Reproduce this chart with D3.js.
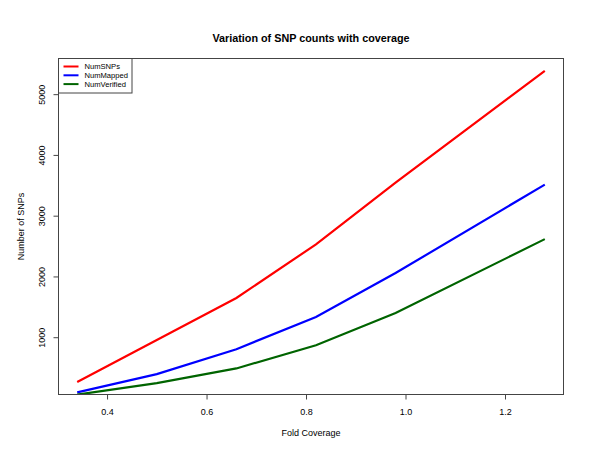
<!DOCTYPE html>
<html><head><meta charset="utf-8">
<script src="https://cdn.jsdelivr.net/npm/d3@7"></script>
<style>body{margin:0;background:#fff}svg{display:block}text{font-family:"Liberation Sans",Arial,sans-serif;fill:#000}</style>
</head><body><svg id="c" width="600" height="464"></svg>
<script>
const coverage = [0.34, 0.5, 0.66, 0.82, 0.98, 1.28];
const numSNPs = [262, 955, 1645, 2528, 3545, 5382];
const numMapped = [92, 392, 803, 1333, 2056, 3512];
const numVerified = [55, 245, 486, 868, 1399, 2614];
const seriesNames = ["NumSNPs", "NumMapped", "NumVerified"];
const seriesColors = ["#ff0000", "#0000ff", "#006400"];
const xTicks = [0.4, 0.6, 0.8, 1.0, 1.2];
const yTicks = [1000, 2000, 3000, 4000, 5000];

const svg = d3.select("#c");
const L = 58.5, R = 563.5, T = 58.5, B = 394.5;
const ext = (a) => { const [mn, mx] = d3.extent(a); const d = (mx - mn) * 0.04; return [mn - d, mx + d]; };
const x = d3.scaleLinear().domain(ext(coverage)).range([L, R]);
const y = d3.scaleLinear().domain(ext(numSNPs)).range([B, T]);

svg.append("defs").append("clipPath").attr("id", "clip")
  .append("rect").attr("x", L).attr("y", T).attr("width", R - L).attr("height", B - T);

const series = [numSNPs, numMapped, numVerified];
const line = d3.line().x((d, i) => x(coverage[i])).y(d => y(d));
const g = svg.append("g").attr("clip-path", "url(#clip)");
series.forEach((s, k) => {
  g.append("path").datum(s).attr("d", line).attr("fill", "none")
    .attr("stroke", seriesColors[k]).attr("stroke-width", 2.2);
});

// box
svg.append("rect").attr("x", L).attr("y", T).attr("width", R - L).attr("height", B - T)
  .attr("fill", "none").attr("stroke", "#444").attr("stroke-width", 1);

// x axis
const xa = svg.append("g").attr("transform", `translate(0,${B})`)
  .call(d3.axisBottom(x).tickValues(xTicks).tickFormat(d3.format(".1f")).tickSize(5).tickSizeOuter(0));
xa.select(".domain").remove();
xa.selectAll("line").attr("stroke", "#444");
xa.selectAll("text").attr("font-size", 9).attr("dy", null).attr("y", 20);

// y axis
const ya = svg.append("g").attr("transform", `translate(${L},0)`)
  .call(d3.axisLeft(y).tickValues(yTicks).tickSize(5).tickSizeOuter(0).tickFormat(d3.format("d")));
ya.select(".domain").remove();
ya.selectAll("line").attr("stroke", "#444");
ya.selectAll("text").attr("font-size", 9).attr("x", null).attr("dy", null)
  .attr("text-anchor", "middle").attr("transform", "translate(-13.5,0) rotate(-90)");

// titles
svg.append("text").attr("x", (L + R) / 2).attr("y", 42).attr("text-anchor", "middle")
  .attr("font-size", 10.8).attr("font-weight", "bold").text("Variation of SNP counts with coverage");
svg.append("text").attr("x", (L + R) / 2).attr("y", 435.5).attr("text-anchor", "middle")
  .attr("font-size", 9).text("Fold Coverage");
svg.append("text").attr("transform", `translate(23.5,${(T + B) / 2}) rotate(-90)`).attr("text-anchor", "middle")
  .attr("font-size", 9).text("Number of SNPs");

// legend
const lg = svg.append("g");
lg.append("rect").attr("x", L).attr("y", T).attr("width", 73.5).attr("height", 34.5)
  .attr("fill", "#fff").attr("stroke", "#444").attr("stroke-width", 1);
seriesNames.forEach((n, k) => {
  const yy = 66.5 + k * 8.8;
  lg.append("line").attr("x1", 63.5).attr("x2", 78.5).attr("y1", yy).attr("y2", yy)
    .attr("stroke", seriesColors[k]).attr("stroke-width", 2);
  lg.append("text").attr("x", 84.5).attr("y", yy + 2.7).attr("font-size", 7.6).text(n);
});
</script></body></html>
